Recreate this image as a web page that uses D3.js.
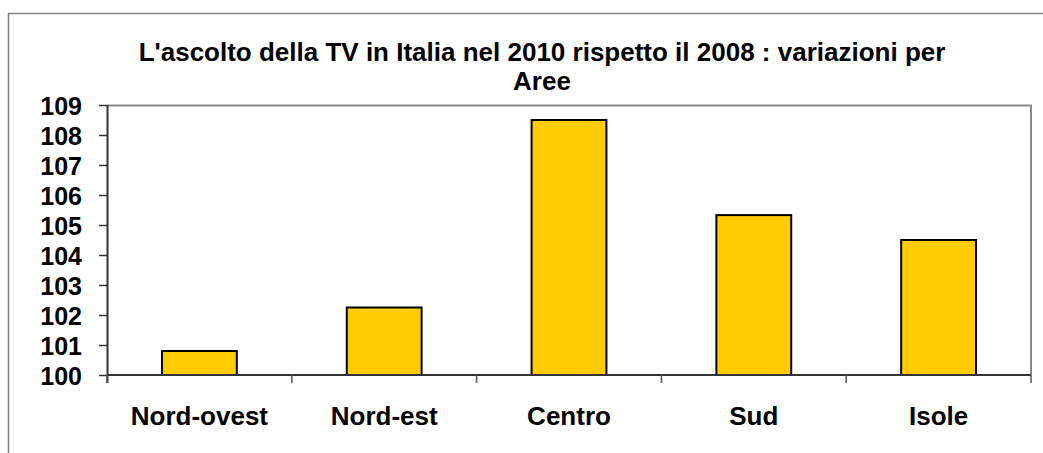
<!DOCTYPE html>
<html>
<head>
<meta charset="utf-8">
<script src="https://cdn.jsdelivr.net/npm/d3@7"></script>
<style>
  body { margin: 0; background: #fff; }
  text { font-family: Arial, "Liberation Sans", sans-serif; font-weight: bold; fill: #000; }
</style>
</head>
<body>
<div class="chart"></div>
<script>
// data
var areas = ["Nord-ovest", "Nord-est", "Centro", "Sud", "Isole"];
var values = [100.8, 102.25, 108.5, 105.33, 104.5];
var yTicks = [100, 101, 102, 103, 104, 105, 106, 107, 108, 109];
var titleLines = ["L'ascolto della TV in Italia nel 2010 rispetto il 2008 : variazioni per", "Aree"];

var svgWidth = 1043;
var svgHeight = 453;

var margin = { top: 105, right: 12, bottom: 78, left: 107 };
var width = svgWidth - margin.left - margin.right;
var height = svgHeight - margin.top - margin.bottom;

var svg = d3.select(".chart")
  .append("svg")
  .attr("width", svgWidth)
  .attr("height", svgHeight);

// outer frame (bottom runs off the page)
svg.append("rect")
  .attr("x", 8.5)
  .attr("y", 13.5)
  .attr("width", 1040)
  .attr("height", 460)
  .attr("fill", "none")
  .attr("stroke", "#808080")
  .attr("stroke-width", 1.5);

// title
svg.append("g")
  .selectAll("text")
  .data(titleLines)
  .join("text")
  .attr("x", 542)
  .attr("y", (d, i) => 61 + i * 28.5)
  .attr("text-anchor", "middle")
  .style("font-size", "26px")
  .text(d => d);

var chartGroup = svg.append("g")
  .attr("transform", `translate(${margin.left}, ${margin.top})`);

var x = d3.scaleBand().domain(areas).range([0, width]).paddingInner(0).paddingOuter(0);
var y = d3.scaleLinear().domain([100, 109]).range([height, 0]);

// plot area top and right edges
chartGroup.append("path")
  .attr("d", `M0,0.5H${width}V${height}`)
  .attr("fill", "none")
  .attr("stroke", "#888")
  .attr("stroke-width", 2);

// bars
var barW = x.bandwidth() * 0.405;
chartGroup.append("g")
  .selectAll("rect")
  .data(values)
  .join("rect")
  .attr("x", (d, i) => x(areas[i]) + (x.bandwidth() - barW) / 2)
  .attr("y", d => y(d))
  .attr("width", barW)
  .attr("height", d => y(100) - y(d))
  .attr("fill", "#FFCC00")
  .attr("stroke", "#000")
  .attr("stroke-width", 2);

// y axis
var yAxis = d3.axisLeft(y)
  .tickValues(yTicks)
  .tickSize(8)
  .tickPadding(17)
  .tickSizeOuter(0);

var yg = chartGroup.append("g").call(yAxis);
yg.select(".domain").attr("stroke", "#333").attr("stroke-width", 2)
  .attr("d", `M0.5,0V${height + 8}`);
yg.selectAll(".tick line").attr("stroke", "#333").attr("stroke-width", 1.5);
yg.selectAll(".tick text")
  .style("font-size", "25px")
  .attr("dy", "0.36em");

// x axis: ticks at category boundaries
var boundaries = areas.map(a => x(a)).concat([width]);
var xg = chartGroup.append("g").attr("transform", `translate(0, ${height})`);
xg.append("line")
  .attr("x1", 0).attr("x2", width)
  .attr("y1", 0).attr("y2", 0)
  .attr("stroke", "#333")
  .attr("stroke-width", 2);
xg.selectAll(".bt")
  .data(boundaries)
  .join("line")
  .attr("class", "bt")
  .attr("x1", d => d).attr("x2", d => d)
  .attr("y1", 0).attr("y2", 8)
  .attr("stroke", "#555")
  .attr("stroke-width", 1.5);
xg.selectAll(".lbl")
  .data(areas)
  .join("text")
  .attr("class", "lbl")
  .attr("x", d => x(d) + x.bandwidth() / 2)
  .attr("y", 50)
  .attr("text-anchor", "middle")
  .style("font-size", "26px")
  .text(d => d);
</script>
</body>
</html>
